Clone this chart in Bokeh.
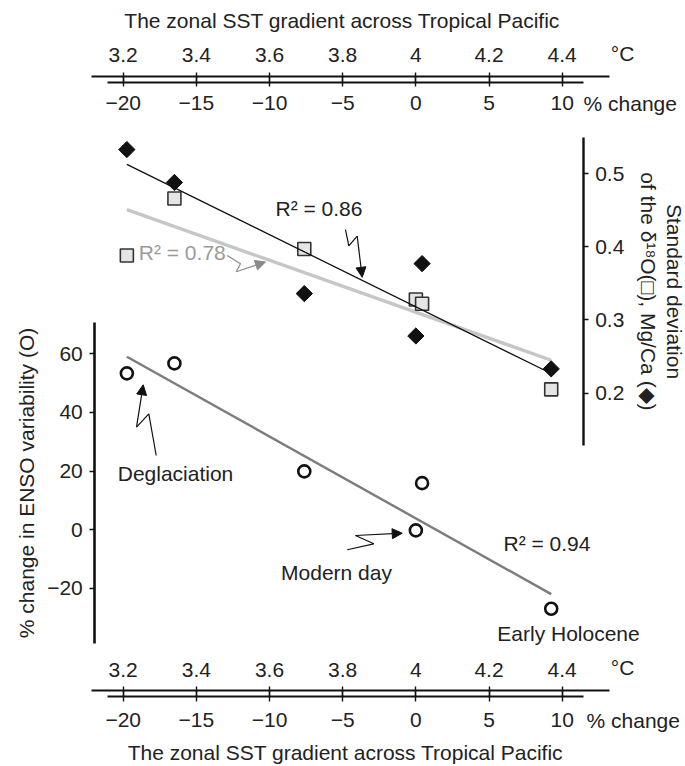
import numpy as np
from bokeh.plotting import figure
from bokeh.models import Range1d, LinearAxis, FixedTicker, Arrow, NormalHead, ColumnDataSource
from bokeh.core.properties import value
from bokeh.embed import file_html
from bokeh.resources import INLINE

# ---------------- data ----------------
sst_c = [3.21, 3.34, 3.695, 4.00, 4.017, 4.37]          # zonal SST gradient (deg C)
enso_pct = [53.3, 56.7, 19.9, -0.2, 15.9, -26.9]        # % change in ENSO variability (circles)
sd_d18o = [0.388, 0.466, 0.397, 0.328, 0.322, 0.205]    # std of d18O (squares)
sd_mgca = [0.533, 0.488, 0.336, 0.278, 0.377, 0.233]    # std of Mg/Ca (diamonds)

c_ticks = [3.2, 3.4, 3.6, 3.8, 4.0, 4.2, 4.4]
c_labels = ["3.2", "3.4", "3.6", "3.8", "4", "4.2", "4.4"]
pct_ticks = [-20, -15, -10, -5, 0, 5, 10]
pct_labels = ["\u221220", "\u221215", "\u221210", "\u22125", "0", "5", "10"]
enso_ticks = [-20, 0, 20, 40, 60]
enso_labels = ["\u221220", "0", "20", "40", "60"]
sd_ticks = [0.2, 0.3, 0.4, 0.5]
sd_labels = ["0.2", "0.3", "0.4", "0.5"]
r2_texts = ["R\u00b2 = 0.86", "R\u00b2 = 0.78", "R\u00b2 = 0.94"]
period_texts = ["Deglaciation", "Modern day", "Early Holocene"]
title_txt = "The zonal SST gradient across Tropical Pacific"

# ---------------- style ----------------
FONT = "Liberation Sans"
FS = "21px"
TXT = "#222222"

W, H = 685, 766
p = figure(width=W, height=H,
           x_range=Range1d(2.86460, 4.73706),
           y_range=Range1d(766, 0),           # layout coordinate (page pixels)
           x_axis_type=None, y_axis_type=None,
           toolbar_location=None, tools="", output_backend="svg",
           min_border=0, title=None, outline_line_color=None)
p.min_border_left = p.min_border_right = p.min_border_top = p.min_border_bottom = 0
p.extra_x_ranges = {"pct": Range1d(-28.385, 18.4265)}
p.extra_y_ranges = {"enso": Range1d(-80.65, 180.34), "sd": Range1d(-0.31093, 0.73693)}
p.background_fill_color = "white"
p.border_fill_color = "white"


def style(ax, tick_out, tick_in, standoff, width=2.0):
    ax.axis_line_width = width
    ax.axis_line_color = "#111111"
    ax.major_tick_out = tick_out
    ax.major_tick_in = tick_in
    ax.minor_tick_out = 0
    ax.minor_tick_in = 0
    ax.major_tick_line_width = 1.4
    ax.major_tick_line_color = "#111111"
    ax.major_label_standoff = standoff
    ax.major_label_text_font = FONT
    ax.major_label_text_font_size = FS
    ax.major_label_text_color = TXT
    ax.axis_label_text_font = FONT
    ax.axis_label_text_font_size = FS
    ax.axis_label_text_font_style = "normal"
    ax.axis_label_text_color = TXT
    return ax


# top: deg C (labels above), % change (labels below)
ax = LinearAxis(ticker=FixedTicker(ticks=c_ticks), major_label_overrides=dict(zip(c_ticks, c_labels)),
                fixed_location=75.7, bounds=(3.1125, 4.5293))
style(ax, 4, 6, 10)
p.add_layout(ax, "above")

ax = LinearAxis(x_range_name="pct", ticker=FixedTicker(ticks=pct_ticks),
                major_label_overrides=dict(zip(pct_ticks, pct_labels)),
                fixed_location=82.3, bounds=(-21.09, 11.456))
style(ax, 4, 6, 9)
p.add_layout(ax, "below")

# top title
p.text(x=[3.7987], y=[20], text=[title_txt], text_font=value(FONT), text_font_size=FS,
       text_color=TXT, text_align="center", text_baseline="middle")

# bottom: deg C (labels above), % change (labels below) + title
ax = LinearAxis(ticker=FixedTicker(ticks=c_ticks), major_label_overrides=dict(zip(c_ticks, c_labels)),
                fixed_location=690, bounds=(3.1125, 4.5293))
style(ax, 4, 6, 10)
p.add_layout(ax, "above")

ax = LinearAxis(x_range_name="pct", ticker=FixedTicker(ticks=pct_ticks),
                major_label_overrides=dict(zip(pct_ticks, pct_labels)),
                fixed_location=696, bounds=(-21.09, 11.456), axis_label=title_txt)
style(ax, 5, 6, 11)
ax.axis_label_standoff = 11
p.add_layout(ax, "below")

# left: ENSO variability
ax = LinearAxis(y_range_name="enso", ticker=FixedTicker(ticks=enso_ticks),
                major_label_overrides=dict(zip(enso_ticks, enso_labels)),
                fixed_location=3.12237, bounds=(-38.7, 70.7),
                axis_label="% change in ENSO variability (O)")
style(ax, 5, 0, 7, width=2.6)
ax.axis_label_standoff = 6
p.add_layout(ax, "left")

# right: standard deviation
ax = LinearAxis(y_range_name="sd", ticker=FixedTicker(ticks=sd_ticks),
                major_label_overrides=dict(zip(sd_ticks, sd_labels)),
                fixed_location=4.45742, bounds=(0.128, 0.55),
                axis_label="Standard deviation\nof the \u03b4\u00b9\u2078O(\u25a1), Mg/Ca (\u25c6)")
style(ax, 5, 0, 7, width=2.4)
ax.axis_label_standoff = 9
ax.axis_label_text_line_height = 1.15
p.add_layout(ax, "right")

# unit labels at the end of the double axes
p.text(x=[4.5327, 4.4583, 4.5327, 4.4665], y=[53, 103, 667, 720],
       text=["\u00b0C", "% change", "\u00b0C", "% change"],
       text_font=value(FONT), text_font_size=FS, text_color=TXT,
       text_align="left", text_baseline="middle")

# ---------------- regressions ----------------
x = np.array(sst_c)
xs = np.array([x.min(), x.max()])


def fit(y):
    k, b = np.polyfit(x, np.array(y), 1)
    return k * xs + b


p.line(xs, fit(sd_d18o), y_range_name="sd", line_color="#c6c6c6", line_width=3.4)
p.line(xs, fit(enso_pct), y_range_name="enso", line_color="#7c7c7c", line_width=2.4)

src = ColumnDataSource(dict(sst=sst_c, enso=enso_pct, d18o=sd_d18o, mgca=sd_mgca))
p.scatter("sst", "d18o", source=src, y_range_name="sd", marker="square", size=13,
          fill_color="#e3e5e7", line_color="#333333", line_width=1.6)
p.line(xs, fit(sd_mgca), y_range_name="sd", line_color="#111111", line_width=1.3)
p.scatter("sst", "mgca", source=src, y_range_name="sd", marker="square", angle=np.pi / 4,
          size=11.5, fill_color="#111111", line_color="#111111")
p.scatter("sst", "enso", source=src, y_range_name="enso", marker="circle", size=12,
          fill_color="white", line_color="#111111", line_width=2.6)

# ---------------- annotations ----------------
p.text(x=[3.6163], y=[0.4525], text=[r2_texts[0]], y_range_name="sd",
       text_font=value(FONT), text_font_size=FS, text_color=TXT, text_baseline="middle")
p.text(x=[3.2426], y=[0.3916], text=[r2_texts[1]], y_range_name="sd",
       text_font=value(FONT), text_font_size=FS, text_color="#9a9a9a", text_baseline="middle")
p.text(x=[4.2396], y=[-4.77], text=[r2_texts[2]], y_range_name="enso",
       text_font=value(FONT), text_font_size=FS, text_color=TXT, text_baseline="middle")
p.text(x=[3.343, 3.7831, 4.4172], y=[19.08, -14.45, -35.43], text=period_texts, y_range_name="enso",
       text_font=value(FONT), text_font_size=FS, text_color=TXT, text_align="center",
       text_baseline="middle")


def zigzag(pts, rng, color):
    px = [q[0] for q in pts]
    py = [q[1] for q in pts]
    p.line(px[:-1], py[:-1], y_range_name=rng, line_color=color, line_width=1.2)
    p.add_layout(Arrow(end=NormalHead(size=10, fill_color=color, line_color=color, line_width=1),
                       x_start=px[-2], y_start=py[-2], x_end=px[-1], y_end=py[-1],
                       y_range_name=rng, line_color=color, line_width=1.2))


zigzag([(3.8077, 0.4236), (3.8167, 0.4013), (3.8396, 0.4147), (3.8533, 0.3583)], "sd", "#111111")
zigzag([(3.4843, 0.3880), (3.5206, 0.3769), (3.5089, 0.3659), (3.5890, 0.3792)], "sd", "#8a8a8a")
zigzag([(3.8123, -6.81), (3.8850, -4.77), (3.8350, -1.94), (3.9627, -1.16)], "enso", "#111111")
zigzag([(3.2902, 25.32), (3.2700, 39.52), (3.2364, 34.96), (3.2547, 49.40)], "enso", "#111111")

open("out.html", "w").write(file_html(p, INLINE))
